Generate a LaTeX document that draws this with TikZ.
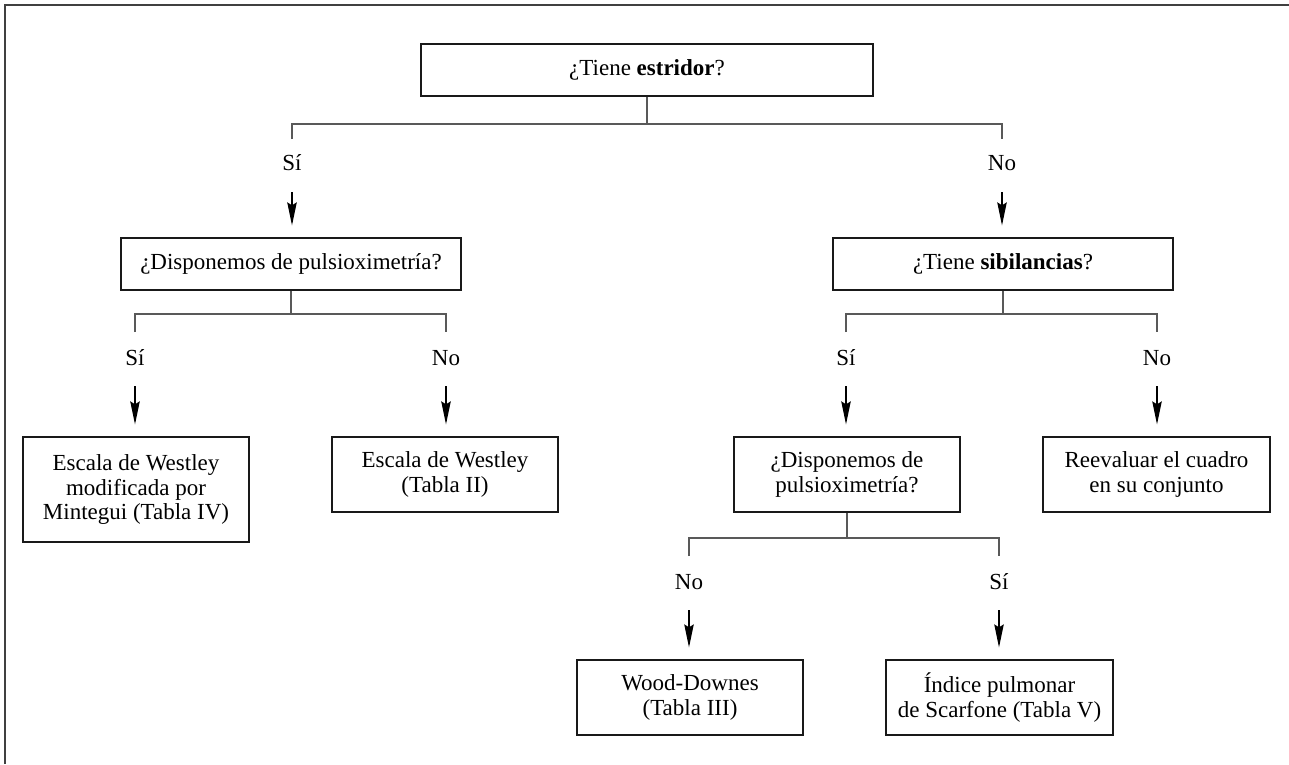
\documentclass[tikz,border=0pt]{standalone}
\usepackage{fontspec}
\setmainfont{Liberation Serif}
\usetikzlibrary{arrows.meta}
\begin{document}
\begin{tikzpicture}[x=1pt,y=-1pt,
  box/.style={draw=black!90,line width=1.3pt,align=center,inner sep=0pt,
    font=\fontsize{23}{24.3}\selectfont},
  lbl/.style={inner sep=0pt,font=\fontsize{23}{24.3}\selectfont},
  conn/.style={draw=black!65,line width=1.2pt},
  arr/.style={draw=black,line width=1.1pt,-{Stealth[length=23pt,width=9.5pt,inset=3pt]},shorten >=12pt},
  frame/.style={draw=black!75,line width=2pt}]
\useasboundingbox (0,0) rectangle (1289,764);
% partial frame
\draw[frame] (5,764) -- (5,5) -- (1289,5);

% boxes
\node[box,minimum width=452pt,minimum height=52pt] (top) at (647,70)
  {¿Tiene \textbf{estridor}?};
\node[box,minimum width=340pt,minimum height=52pt] (d1) at (291,264)
  {¿Disponemos de pulsioximetría?};
\node[box,minimum width=340pt,minimum height=52pt] (sib) at (1003,264)
  {¿Tiene \textbf{sibilancias}?};
\node[box,minimum width=226pt,minimum height=105pt] (wm) at (136,489.5)
  {Escala de Westley\\modificada por\\Mintegui (Tabla IV)};
\node[box,minimum width=226pt,minimum height=75pt] (w2) at (445,474.5)
  {Escala de Westley\\(Tabla II)};
\node[box,minimum width=226pt,minimum height=75pt] (d2) at (847,474.5)
  {¿Disponemos de\\pulsioximetría?};
\node[box,minimum width=227pt,minimum height=75pt] (re) at (1156.5,474.5)
  {Reevaluar el cuadro\\en su conjunto};
\node[box,minimum width=226pt,minimum height=75pt] (wd) at (690,697.5)
  {Wood-Downes\\(Tabla III)};
\node[box,minimum width=227pt,minimum height=75pt] (ip) at (999.5,697.5)
  {Índice pulmonar\\de Scarfone (Tabla V)};

% labels
\node[lbl] (l1) at (292,163) {Sí};
\node[lbl] (l2) at (1002,163) {No};
\node[lbl] (l3) at (135,358) {Sí};
\node[lbl] (l4) at (446,358) {No};
\node[lbl] (l5) at (846,358) {Sí};
\node[lbl] (l6) at (1157,358) {No};
\node[lbl] (l7) at (689,582) {No};
\node[lbl] (l8) at (999,582) {Sí};

% junctions and drop ends
\coordinate (j1) at (647,124);
\coordinate (a1) at (292,139);
\coordinate (b1) at (1002,139);
\coordinate (j2) at (291,314);
\coordinate (a2) at (135,332);
\coordinate (b2) at (446,332);
\coordinate (j3) at (1003,314);
\coordinate (a3) at (846,332);
\coordinate (b3) at (1157,332);
\coordinate (j4) at (847,538);
\coordinate (a4) at (689,556);
\coordinate (b4) at (999,556);

% tree connectors
\draw[conn] (top.south) -- (j1);
\draw[conn] (a1) |- (j1) -| (b1);
\draw[conn] (d1.south) -- (j2);
\draw[conn] (a2) |- (j2) -| (b2);
\draw[conn] (sib.south) -- (j3);
\draw[conn] (a3) |- (j3) -| (b3);
\draw[conn] (d2.south) -- (j4);
\draw[conn] (a4) |- (j4) -| (b4);

% arrows
\draw[arr] ([yshift=-29pt]l1.center) -- (l1.center |- d1.north);
\draw[arr] ([yshift=-29pt]l2.center) -- (l2.center |- sib.north);
\draw[arr] ([yshift=-28pt]l3.center) -- (l3.center |- wm.north);
\draw[arr] ([yshift=-28pt]l4.center) -- (l4.center |- w2.north);
\draw[arr] ([yshift=-28pt]l5.center) -- (l5.center |- d2.north);
\draw[arr] ([yshift=-28pt]l6.center) -- (l6.center |- re.north);
\draw[arr] ([yshift=-28pt]l7.center) -- (l7.center |- wd.north);
\draw[arr] ([yshift=-28pt]l8.center) -- (l8.center |- ip.north);
\end{tikzpicture}
\end{document}
